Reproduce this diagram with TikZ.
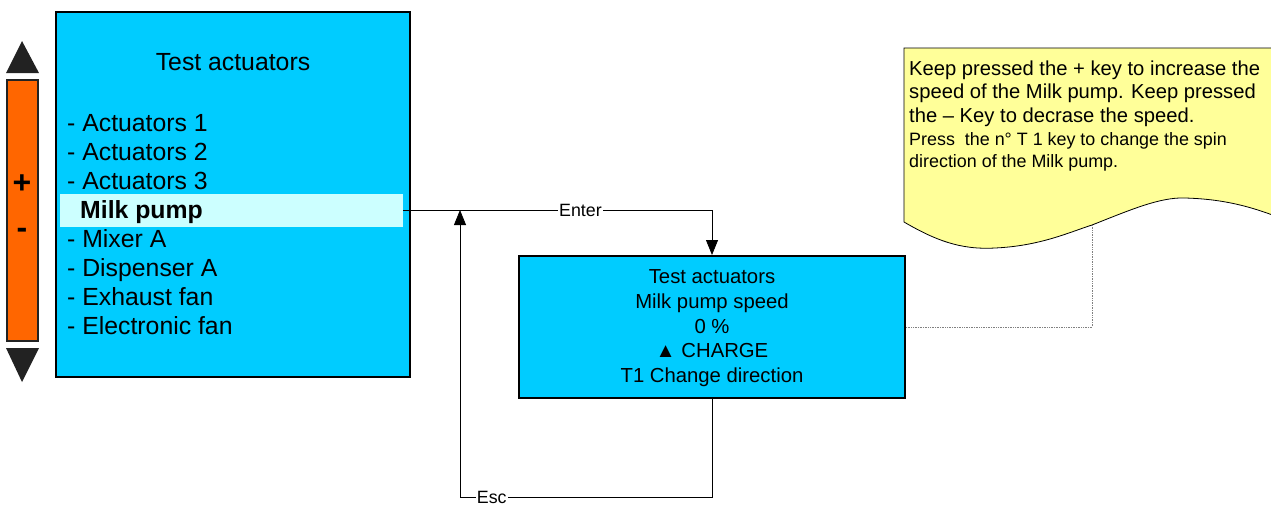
\documentclass[tikz,border=0pt]{standalone}
\usepackage{fontspec}
\setmainfont{Liberation Sans}
\usetikzlibrary{arrows.meta}
\definecolor{scr}{HTML}{00CCFF}
\definecolor{hil}{HTML}{CCFFFF}
\definecolor{bar}{HTML}{FF6600}
\definecolor{notey}{HTML}{FFFF99}
\definecolor{tri}{HTML}{222222}
\tikzset{
  screen/.style={draw=black,line width=2pt,fill=scr,rectangle,inner sep=0pt},
  item/.style={anchor=base west,inner sep=0pt,font=\fontsize{24.8}{28}\selectfont},
  line2/.style={anchor=base,inner sep=0pt,font=\fontsize{20.3}{24}\selectfont},
  notetxt/.style={anchor=base west,inner sep=0pt,font=\fontsize{20.2}{24}\selectfont},
  notesml/.style={anchor=base west,inner sep=0pt,font=\fontsize{17.9}{20}\selectfont},
  conn/.style={draw=black,line width=0.8pt,-{Triangle[length=15pt,width=12pt]}},
  lbl/.style={fill=white,inner sep=1pt,font=\fontsize{17.8}{20}\selectfont},
}
\begin{document}
\begin{tikzpicture}[x=1pt,y=-1pt]
\useasboundingbox (0,0) rectangle (1271,504);
% left keypad
\path[fill=tri] (22,41) -- (39,73) -- (6,73) -- cycle;
\path[fill=tri] (6,348) -- (39,348) -- (22,382) -- cycle;
\node[draw=tri,line width=1.5pt,fill=bar,minimum width=31pt,minimum height=261pt,inner sep=0pt] (keys) at (22.5,210.5) {};
\node[font=\bfseries\fontsize{32}{36}\selectfont,inner sep=0pt] (plus) at (22,184) {+};
\node[font=\bfseries\fontsize{32}{36}\selectfont,inner sep=0pt] (minus) at (22,233) {-};
% main screen
\node[screen,minimum width=354pt,minimum height=365pt] (main) at (233,194.5) {};
\node[anchor=base,inner sep=0pt,font=\fontsize{24.8}{28}\selectfont] (title) at (233,70.5) {Test actuators};
\node[fill=hil,minimum width=343pt,minimum height=33pt,inner sep=0pt] (hl) at (231.5,210.5) {};
\node[item] (a1) at (67,131) {- Actuators 1};
\node[item] (a2) at (67,160) {- Actuators 2};
\node[item] (a3) at (67,189) {- Actuators 3};
\node[item,font=\bfseries\fontsize{24.8}{28}\selectfont] (mp) at (80,218) {Milk pump};
\node[item] (mx) at (67,247) {- Mixer A};
\node[item] (ds) at (67,276) {- Dispenser A};
\node[item] (ex) at (67,305) {- Exhaust fan};
\node[item] (el) at (67,334.5) {- Electronic fan};
% second screen
\node[screen,minimum width=386pt,minimum height=142pt] (box2) at (712,327) {};
\node[line2] (b1) at (712,283) {Test actuators};
\node[line2] (b2) at (712,308) {Milk pump speed};
\node[line2] (b3) at (712,333) {0 \%};
\node[line2] (b4) at (712,357.5) {▲ CHARGE};
\node[line2] (b5) at (712,382) {T1 Change direction};
% note
\path[draw=black,line width=0.8pt,fill=notey]
  (904,48) -- (1290,48) -- (1290,222)
  .. controls (1250,205) and (1220,199) .. (1185,198)
  .. controls (1160,197) and (1130,210) .. (1092,225)
  .. controls (1070,232) and (1040,246) .. (995,248)
  .. controls (960,250) and (935,240) .. (904,222) -- cycle;
\coordinate (notept) at (1092,225);
\node[notetxt] (n1) at (909,75) {Keep pressed the + key to increase the};
\node[notetxt] (n2) at (909,98.5) {speed of the Milk pump. Keep pressed};
\node[notetxt] (n3) at (909,122) {the – Key to decrase the speed.};
\node[notesml] (n4) at (909,145) {Press\ \ the n° T 1 key to change the spin};
\node[notesml] (n5) at (909,167) {direction of the Milk pump.};
% connectors
\draw[conn] (hl.east) -| node[lbl,pos=0.287] {Enter} (box2.north);
\coordinate (escc) at (460,497);
\coordinate (esctip) at (460,210);
\draw[conn] (box2.south) |- node[lbl,pos=0.937] {Esc} (escc) -- (esctip);
\draw[gray,line width=0.7pt,densely dotted] (box2.east) -| (notept);
\end{tikzpicture}
\end{document}
